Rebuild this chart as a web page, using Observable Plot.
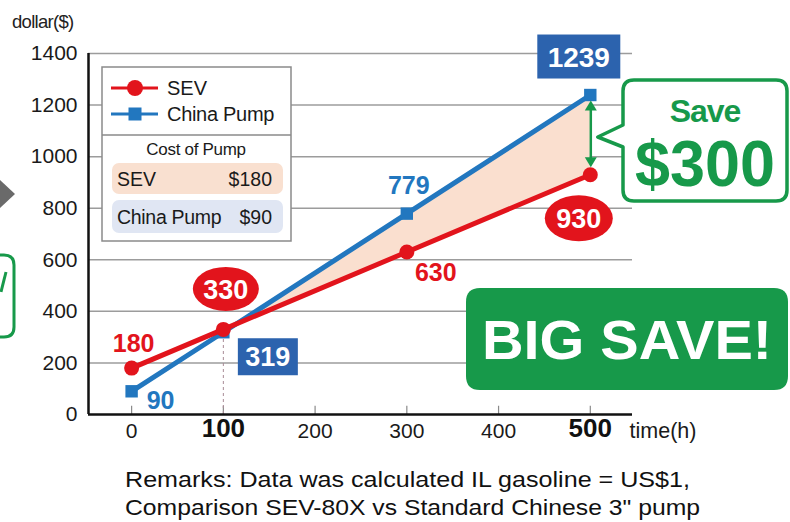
<!DOCTYPE html>
<html><head><meta charset="utf-8">
<script src="https://cdn.jsdelivr.net/npm/d3@7"></script>
<script src="https://cdn.jsdelivr.net/npm/@observablehq/plot@0.6"></script>
<style>
html,body{margin:0;padding:0;background:#fff;}
#chart{position:relative;width:790px;height:522px;overflow:hidden;}
</style></head><body><div id="chart"></div>
<script>
// ---- data ----
const hours = [0, 100, 300, 500];
const sevCost = [180, 330, 630, 930];
const chinaCost = [90, 319, 779, 1239];
const yTicks = [0, 200, 400, 600, 800, 1000, 1200, 1400];
const xTicks = [0, 100, 200, 300, 400, 500];
const boldXTicks = [100, 500];
const seriesNames = ["SEV", "China Pump"];
const pumpCosts = [180, 90];
const yTitle = "dollar($)";
const xTitle = "time(h)";
const saveText = ["Save", "$300"];
const bigSaveText = "BIG SAVE!";
const costTitle = "Cost of Pump";
const remarks = ["Remarks: Data was calculated IL gasoline = US$1,", "Comparison SEV-80X vs Standard Chinese 3\" pump"];

// ---- styles ----
const RED = "#e2141c", BLUE = "#2277bf", BOXBLUE = "#2c63ae", GREEN = "#17994a", PEACH = "#fadfcf";
const FONT = "'Liberation Sans', Arial, Helvetica, sans-serif";

const sev = hours.map((h, i) => ({h, v: sevCost[i]}));
const china = hours.map((h, i) => ({h, v: chinaCost[i]}));
const band = hours.map((h, i) => ({h, lo: sevCost[i], hi: chinaCost[i]})).filter(d => d.h >= 100);
const normalTicks = xTicks.filter(t => !boldXTicks.includes(t));

function el(g, tag, attrs, text) {
  const e = g.append(tag);
  if (tag === "text" && !("text-anchor" in attrs)) e.attr("text-anchor", "start");
  for (const k in attrs) e.attr(k, attrs[k]);
  if (text != null) e.text(text);
  return e;
}
function rrect(x0, y0, x1, y1, r) {
  return `M${x0+r},${y0}H${x1-r}Q${x1},${y0} ${x1},${y0+r}V${y1-r}Q${x1},${y1} ${x1-r},${y1}H${x0+r}Q${x0},${y1} ${x0},${y1-r}V${y0+r}Q${x0},${y0} ${x0+r},${y0}Z`;
}

// badges anchored to data points
function badges(index, scales) {
  const g = d3.create("svg:g").attr("font-family", FONT);
  const X = scales.x, Y = scales.y;
  const items = [
    {x: hours[1], y: sevCost[1], t: sevCost[1], shape: "ellipse", dx: 3, dy: -40, w: 66, h: 44, fill: RED, fs: 27},
    {x: hours[1], y: chinaCost[1], t: chinaCost[1], shape: "box", dx: 45, dy: 25, w: 60, h: 37, fill: BOXBLUE, fs: 27},
    {x: hours[3], y: chinaCost[3], t: chinaCost[3], shape: "box", dx: -11, dy: -38, w: 83, h: 44, fill: BOXBLUE, fs: 28},
    {x: hours[3], y: sevCost[3], t: sevCost[3], shape: "ellipse", dx: -11, dy: 44, w: 68, h: 46, fill: RED, fs: 27}
  ];
  for (const d of items) {
    const cx = X(d.x) + d.dx, cy = Y(d.y) + d.dy;
    if (d.shape === "ellipse") el(g, "ellipse", {cx, cy, rx: d.w/2, ry: d.h/2, fill: d.fill});
    else el(g, "rect", {x: cx - d.w/2, y: cy - d.h/2, width: d.w, height: d.h, fill: d.fill});
    el(g, "text", {x: cx, y: cy + d.fs*0.36, "text-anchor": "middle", fill: "#fff", "font-weight": "bold", "font-size": d.fs}, String(d.t));
  }
  // double arrow between the two 500h values
  const ax = X(hours[3]) + 1, ay1 = Y(chinaCost[3]) + 6, ay2 = Y(sevCost[3]) - 7;
  el(g, "line", {x1: ax, x2: ax, y1: ay1 + 8, y2: ay2 - 8, stroke: GREEN, "stroke-width": 2.5});
  el(g, "path", {d: `M${ax},${ay1}L${ax-6},${ay1+10}L${ax+6},${ay1+10}Z`, fill: GREEN});
  el(g, "path", {d: `M${ax},${ay2}L${ax-6},${ay2-10}L${ax+6},${ay2-10}Z`, fill: GREEN});
  return g.node();
}

// decorations: legend, callouts, remarks, cut-off neighbours
function decorations(index, scales) {
  const g = d3.create("svg:g").attr("font-family", FONT);
  // cut-off neighbour shapes at left edge
  el(g, "path", {d: "M0,180L15,194L0,208Z", fill: "#6a6a6a"});
  el(g, "path", {d: "M-20,255H4Q14,255 14,265V327Q14,337 4,337H-20", fill: "none", stroke: GREEN, "stroke-width": 3});
  el(g, "path", {d: "M6,272L1,292", stroke: GREEN, "stroke-width": 3, fill: "none"});
  // y title
  el(g, "text", {x: 12, y: 28, "font-size": 18.5, fill: "#222", "letter-spacing": -0.7}, yTitle);
  // legend
  el(g, "rect", {x: 102, y: 67, width: 189, height: 174, fill: "#fff", stroke: "#8a8a8a", "stroke-width": 1.5});
  el(g, "line", {x1: 102, x2: 291, y1: 135, y2: 135, stroke: "#8a8a8a", "stroke-width": 1.5});
  el(g, "line", {x1: 111, x2: 158, y1: 88, y2: 88, stroke: RED, "stroke-width": 3});
  el(g, "circle", {cx: 135, cy: 88, r: 8, fill: RED});
  el(g, "text", {x: 167, y: 95, "font-size": 20, fill: "#1a1a1a"}, seriesNames[0]);
  el(g, "line", {x1: 111, x2: 158, y1: 114, y2: 114, stroke: BLUE, "stroke-width": 3});
  el(g, "rect", {x: 128.5, y: 107.5, width: 13, height: 13, fill: BLUE});
  el(g, "text", {x: 167, y: 121, "font-size": 20, fill: "#1a1a1a", "letter-spacing": -0.3}, seriesNames[1]);
  el(g, "text", {x: 196, y: 155, "font-size": 17, "text-anchor": "middle", fill: "#1a1a1a", "letter-spacing": -0.3}, costTitle);
  el(g, "rect", {x: 112, y: 163, width: 171, height: 31, rx: 7, fill: "#f9e0d0"});
  el(g, "rect", {x: 112, y: 200, width: 171, height: 33, rx: 7, fill: "#e0e6f3"});
  el(g, "text", {x: 117, y: 185.5, "font-size": 19.5, fill: "#1a1a1a"}, seriesNames[0]);
  el(g, "text", {x: 272, y: 185.5, "font-size": 19.5, "text-anchor": "end", fill: "#1a1a1a"}, "$" + pumpCosts[0]);
  el(g, "text", {x: 117, y: 223.5, "font-size": 19.5, fill: "#1a1a1a", "letter-spacing": -0.3}, seriesNames[1]);
  el(g, "text", {x: 272, y: 223.5, "font-size": 19.5, "text-anchor": "end", fill: "#1a1a1a"}, "$" + pumpCosts[1]);
  // Save callout
  const tipX = scales.x(hours[3]) + 8;
  el(g, "path", {d: `M634,80H776Q787,80 787,91V190Q787,201 776,201H634Q623,201 623,190V147L${tipX},137L623,125V91Q623,80 634,80Z`,
    fill: "#fff", stroke: GREEN, "stroke-width": 3.5, "stroke-linejoin": "round"});
  el(g, "text", {x: 705, y: 122, "font-size": 32, "font-weight": "bold", "text-anchor": "middle", fill: GREEN, "letter-spacing": -1}, saveText[0]);
  el(g, "text", {x: 705, y: 186, "font-size": 64, "font-weight": "bold", "text-anchor": "middle", fill: GREEN, textLength: 140, lengthAdjust: "spacingAndGlyphs"}, saveText[1]);
  // BIG SAVE
  el(g, "path", {d: rrect(466, 288, 788, 390, 14), fill: GREEN});
  el(g, "text", {x: 627, y: 359, "font-size": 56, "font-weight": "bold", "text-anchor": "middle", fill: "#fff", textLength: 290, lengthAdjust: "spacingAndGlyphs"}, bigSaveText);
  // remarks
  el(g, "text", {x: 125, y: 487, "font-size": 22, fill: "#111", textLength: 565, lengthAdjust: "spacingAndGlyphs"}, remarks[0]);
  el(g, "text", {x: 125, y: 515, "font-size": 22, fill: "#111", textLength: 575, lengthAdjust: "spacingAndGlyphs"}, remarks[1]);
  return g.node();
}

const chart = Plot.plot({
  width: 790, height: 522,
  marginLeft: 88, marginRight: 158, marginTop: 53, marginBottom: 108,
  style: {fontFamily: FONT, background: "#fff", overflow: "visible"},
  x: {domain: [-47, 546], axis: null},
  y: {domain: [0, 1400], axis: null},
  marks: [
    Plot.ruleY(yTicks.filter(t => t > 0), {stroke: "#9c9c9c", strokeWidth: 1.5}),
    Plot.ruleX(xTicks, {y1: 0, y2: 32, stroke: "#8a8a8a", strokeWidth: 1.2}),
    Plot.text(yTicks, {y: d => d, text: d => String(d), frameAnchor: "left", textAnchor: "end", dx: -11, fontSize: 21, fill: "#1a1a1a"}),
    Plot.text(normalTicks, {x: d => d, text: d => String(d), frameAnchor: "bottom", dy: 23, fontSize: 21, fill: "#1a1a1a"}),
    Plot.text(boldXTicks, {x: d => d, text: d => String(d), frameAnchor: "bottom", dy: 22, fontSize: 26, fontWeight: "bold", fill: "#111"}),
    Plot.text([xTitle], {frameAnchor: "bottom-right", text: d => d, dx: 64, dy: 23, fontSize: 21.5, fill: "#1a1a1a"}),
    Plot.areaY(band, {x: "h", y1: "lo", y2: "hi", fill: PEACH}),
    Plot.ruleX([hours[1]], {y1: 0, y2: sevCost[1], stroke: "#a88c96", strokeWidth: 1, strokeDasharray: "3,3"}),
    Plot.ruleX([-47], {stroke: "#111", strokeWidth: 2.5}),
    Plot.ruleY([0], {stroke: "#111", strokeWidth: 2.5}),
    Plot.line(china, {x: "h", y: "v", stroke: BLUE, strokeWidth: 5}),
    Plot.dot(china, {x: "h", y: "v", symbol: "square", r: 7, fill: BLUE}),
    Plot.line(sev, {x: "h", y: "v", stroke: RED, strokeWidth: 5}),
    Plot.dot(sev, {x: "h", y: "v", r: 7.5, fill: RED}),
    Plot.text([sev[0]], {x: "h", y: "v", text: d => String(d.v), dx: 2, dy: -24, fontSize: 25, fontWeight: "bold", fill: RED}),
    Plot.text([china[0]], {x: "h", y: "v", text: d => String(d.v), dx: 29, dy: 10, fontSize: 25, fontWeight: "bold", fill: BLUE}),
    Plot.text([china[2]], {x: "h", y: "v", text: d => String(d.v), dx: 2, dy: -28, fontSize: 25, fontWeight: "bold", fill: BLUE}),
    Plot.text([sev[2]], {x: "h", y: "v", text: d => String(d.v), dx: 29, dy: 21, fontSize: 25, fontWeight: "bold", fill: RED}),
    badges,
    decorations
  ]
});
document.getElementById("chart").appendChild(chart);
</script></body></html>
